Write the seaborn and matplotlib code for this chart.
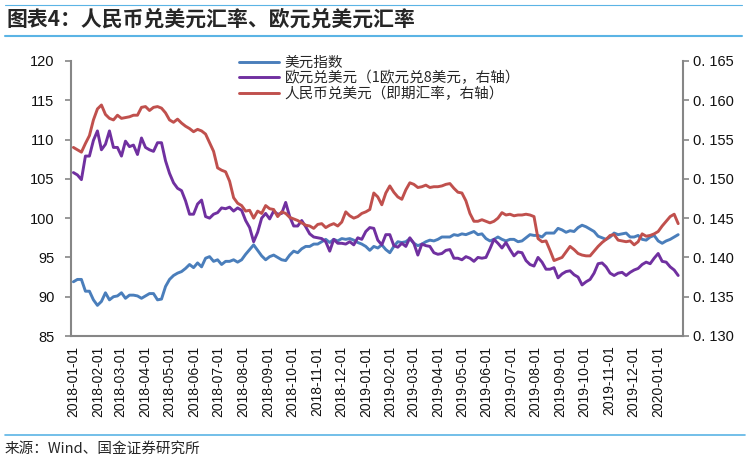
import matplotlib
matplotlib.use("Agg")
import matplotlib.pyplot as plt
import matplotlib.dates as mdates
from matplotlib.lines import Line2D
import seaborn as sns
import pandas as pd

# ---- data (one reading every 5 days) ----
dates = pd.date_range("2018-01-01", periods=152, freq="5D")

usd_index = [
    91.9, 92.2, 92.2, 90.7, 90.7, 89.6, 88.9, 89.4, 90.5, 89.6, 90.0, 90.1,
    90.5, 89.8, 90.2, 90.2, 90.1, 89.8, 90.1, 90.4, 90.4, 89.6, 89.7, 91.3,
    92.2, 92.7, 93.0, 93.2, 93.6, 94.1, 93.7, 94.3, 93.8, 94.9, 95.1, 94.5,
    94.7, 94.1, 94.5, 94.5, 94.7, 94.4, 94.7, 95.4, 96.0, 96.6, 95.9, 95.2,
    94.7, 95.1, 95.3, 95.0, 94.7, 94.6, 95.3, 95.8, 95.6, 96.1, 96.4, 96.4,
    96.7, 96.7, 97.0, 97.3, 96.9, 97.3, 97.1, 97.4, 97.3, 97.4, 97.2, 96.9,
    96.7,
    96.4, 95.9, 96.4, 96.2, 96.6, 96.0, 95.6, 96.4, 97.0, 96.9, 97.0, 97.4,
    96.8, 96.5, 96.7, 97.0, 97.2, 97.1, 97.3, 97.6, 97.6, 97.6, 97.9, 97.8,
    98.0, 97.9, 98.1, 98.3, 97.9, 98.0, 97.4, 97.1, 97.3, 97.6, 97.3, 97.1,
    97.3, 97.3, 97.0, 97.1,
    97.5, 97.9, 97.8, 97.8, 97.6, 98.1, 98.1, 98.1, 98.7, 98.5, 98.2, 98.4,
    98.3, 98.8, 99.1, 98.9, 98.6, 98.3, 97.7, 97.5, 97.3, 97.6, 98.1, 97.9,
    98.0, 98.1, 97.6, 97.6, 97.8, 97.3, 97.2, 97.6, 97.8, 97.1, 96.8, 97.1,
    97.3, 97.6, 97.9,
]
eur_usd = [
    0.1508, 0.1505, 0.1499, 0.1529, 0.1529, 0.1549, 0.1561, 0.1537, 0.1544, 0.1561, 0.1540, 0.1540,
    0.1529, 0.1548, 0.1541, 0.1543, 0.1531, 0.1552, 0.1540, 0.1537, 0.1535, 0.1546, 0.1546, 0.1523,
    0.1507, 0.1495, 0.1488, 0.1485, 0.1472, 0.1455, 0.1455, 0.1468, 0.1473, 0.1452, 0.1450, 0.1455,
    0.1457, 0.1463, 0.1462, 0.1464, 0.1459, 0.1463, 0.1460, 0.1447, 0.1438, 0.1420, 0.1432, 0.1450,
    0.1456, 0.1449, 0.1459, 0.1455, 0.1456, 0.1470, 0.1452, 0.1440, 0.1440, 0.1447, 0.1439, 0.1430,
    0.1426, 0.1425, 0.1424, 0.1420, 0.1408, 0.1423, 0.1418, 0.1418, 0.1417, 0.1420, 0.1416, 0.1425,
    0.1423,
    0.1433, 0.1438, 0.1437, 0.1422, 0.1416, 0.1429, 0.1429, 0.1415, 0.1413, 0.1418, 0.1414, 0.1425,
    0.1418, 0.1403, 0.1417, 0.1415, 0.1414, 0.1406, 0.1404, 0.1405, 0.1409, 0.1410, 0.1399, 0.1399,
    0.1397, 0.1401, 0.1399, 0.1395, 0.1400, 0.1399, 0.1400, 0.1411, 0.1423, 0.1418, 0.1412, 0.1419,
    0.1410, 0.1402, 0.1407, 0.1406,
    0.1396, 0.1391, 0.1389, 0.1400, 0.1394, 0.1385, 0.1385, 0.1387, 0.1374, 0.1379, 0.1382, 0.1383,
    0.1378, 0.1375, 0.1365, 0.1369, 0.1372, 0.1380, 0.1392, 0.1393, 0.1388, 0.1380, 0.1377, 0.1380,
    0.1381, 0.1377, 0.1381, 0.1384, 0.1386, 0.1391, 0.1394, 0.1392, 0.1399, 0.1405, 0.1395, 0.1394,
    0.1388, 0.1384, 0.1377,
]
cny_usd = [
    0.1540, 0.1537, 0.1534, 0.1545, 0.1555, 0.1575, 0.1589, 0.1594, 0.1582, 0.1577, 0.1575, 0.1581,
    0.1577, 0.1578, 0.1579, 0.1581, 0.1581, 0.1591, 0.1592, 0.1587, 0.1591, 0.1592, 0.1590, 0.1584,
    0.1575, 0.1572, 0.1576, 0.1571, 0.1567, 0.1564, 0.1560, 0.1563, 0.1561, 0.1557, 0.1546, 0.1535,
    0.1514, 0.1511, 0.1509, 0.1497, 0.1476, 0.1469, 0.1466, 0.1459, 0.1460, 0.1450, 0.1459, 0.1456,
    0.1466, 0.1462, 0.1461, 0.1452, 0.1458, 0.1456, 0.1451, 0.1449, 0.1447, 0.1444, 0.1441, 0.1440,
    0.1437, 0.1442, 0.1443, 0.1438, 0.1441, 0.1443, 0.1440, 0.1445, 0.1458, 0.1453, 0.1450, 0.1452,
    0.1456,
    0.1458, 0.1461, 0.1482, 0.1477, 0.1467, 0.1482, 0.1491, 0.1483, 0.1477, 0.1474, 0.1486, 0.1495,
    0.1493, 0.1489, 0.1490, 0.1492, 0.1489, 0.1490, 0.1490, 0.1491, 0.1493, 0.1494, 0.1488, 0.1483,
    0.1482, 0.1472, 0.1456, 0.1446, 0.1446, 0.1448, 0.1446, 0.1444, 0.1446, 0.1450, 0.1457, 0.1454,
    0.1455, 0.1453, 0.1454, 0.1454,
    0.1455, 0.1454, 0.1452, 0.1424, 0.1420, 0.1421, 0.1409, 0.1396, 0.1398, 0.1400, 0.1407, 0.1414,
    0.1410, 0.1405, 0.1403, 0.1402, 0.1402, 0.1408, 0.1414, 0.1419, 0.1423, 0.1428, 0.1429, 0.1422,
    0.1421, 0.1420, 0.1421, 0.1416, 0.1420, 0.1430, 0.1427, 0.1428, 0.1430, 0.1433, 0.1440, 0.1446,
    0.1452, 0.1455, 0.1443,
]
series_names = ["美元指数", "欧元兑美元（1欧元兑8美元，右轴）", "人民币兑美元（即期汇率，右轴）"]
left_ticks = [85, 90, 95, 100, 105, 110, 115, 120]
right_ticks = [0.130, 0.135, 0.140, 0.145, 0.150, 0.155, 0.160, 0.165]
x_ticks = pd.date_range("2018-01-01", "2020-01-01", freq="MS")
title_text = "图表4：人民币兑美元汇率、欧元兑美元汇率"
source_text = "来源：Wind、国金证券研究所"

# ---- style ----
sns.set_style("white")
plt.rcParams['font.family'] = ['Liberation Sans', 'Noto Sans CJK SC', 'DejaVu Sans']
cjk = ['Noto Sans CJK SC', 'DejaVu Sans']

c_blue, c_purple, c_red = "#4A7EBB", "#7030A0", "#C0504D"
axis_gray = "#868686"

df = pd.DataFrame({"date": dates, "usd": usd_index, "eur": eur_usd, "cny": cny_usd})

W, H = 752, 459
fig = plt.figure(figsize=(W / 100, H / 100), dpi=100)
ax = fig.add_axes([71 / W, 1 - 336 / H, (683 - 71) / W, (336 - 61) / H])
ax2 = ax.twinx()

sns.lineplot(data=df, x="date", y="usd", ax=ax, color=c_blue, lw=2.1, legend=False)
sns.lineplot(data=df, x="date", y="eur", ax=ax2, color=c_purple, lw=2.1, legend=False)
sns.lineplot(data=df, x="date", y="cny", ax=ax2, color=c_red, lw=2.1, legend=False)

ax.set_ylim(85, 120)
ax.set_yticks(left_ticks)
ax.set_yticklabels([str(t) for t in left_ticks], fontsize=10.5)
ax2.set_ylim(0.130, 0.165)
ax2.set_yticks(right_ticks)
ax2.set_yticklabels(["0. %d" % round(t * 1000) for t in right_ticks], fontsize=10.5)

ax.set_xlim(pd.Timestamp("2017-12-29"), pd.Timestamp("2020-02-01"))
ax.set_xticks(x_ticks)
ax.xaxis.set_major_formatter(mdates.DateFormatter("%Y-%m-%d"))
for lab in ax.get_xticklabels():
    lab.set_rotation(90)
    lab.set_fontsize(10)

for a in (ax, ax2):
    a.set_xlabel("")
    a.set_ylabel("")
    a.grid(False)
    a.spines["top"].set_visible(False)
    for s in ("left", "right", "bottom"):
        a.spines[s].set_color(axis_gray)
        a.spines[s].set_linewidth(1.5)
    a.tick_params(axis="both", direction="out", length=4, width=1.2, color=axis_gray, labelcolor="#111111")
ax.spines["right"].set_visible(False)
ax2.spines["left"].set_visible(False)
ax2.spines["bottom"].set_visible(False)
ax.tick_params(axis="x", pad=3)
ax.tick_params(axis="y", pad=8)

handles = [ax.lines[0], ax2.lines[0], ax2.lines[1]]
fig.legend(handles, series_names, loc="upper left", bbox_to_anchor=(233 / W, 1 - 50 / H),
           frameon=False, prop={'family': cjk, 'size': 10.5}, handlelength=2.75,
           handletextpad=0.4, labelspacing=0.08, borderaxespad=0)

# title, separators and source
fig.text(7 / W, 1 - 19 / H, title_text, fontsize=15, fontweight="bold", style="italic",
         family=cjk, va="center", ha="left")
line_c = "#5BB4E5"
fig.add_artist(Line2D([5 / W, 742 / W], [1 - 5 / H, 1 - 5 / H], color=line_c, lw=0.8))
fig.add_artist(Line2D([5 / W, 742 / W], [1 - 36 / H, 1 - 36 / H], color=line_c, lw=1.5))
fig.add_artist(Line2D([5 / W, 745 / W], [1 - 435 / H, 1 - 435 / H], color=line_c, lw=1.2))
fig.text(5 / W, 1 - 449 / H, source_text, fontsize=10.5, family=cjk, va="center", ha="left")

fig.savefig("out.png", dpi=100)
